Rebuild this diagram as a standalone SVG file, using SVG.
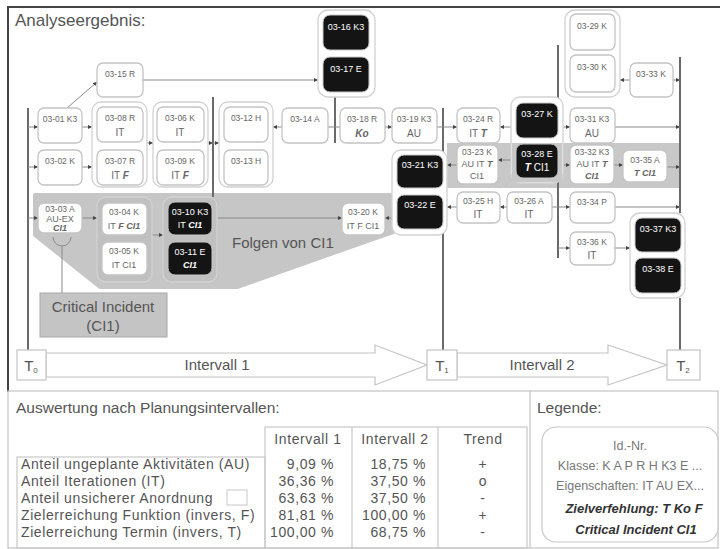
<svg xmlns="http://www.w3.org/2000/svg" width="720" height="549" viewBox="0 0 720 549">
<defs>
<style>
text{font-family:"Liberation Sans",Arial,sans-serif}
.n{fill:#fff;stroke:#c4c4c4;stroke-width:1.3}
.g{fill:#fff;stroke:#d2d2d2;stroke-width:1.3}
.b{fill:#141414;stroke:#c8c8c8;stroke-width:1}
.t{font-size:8.5px;fill:#666;text-anchor:middle}
.t2{font-size:10px;fill:#666;text-anchor:middle}
.t3{font-size:9px;fill:#666;text-anchor:middle}
.w{font-size:9px;fill:#fff;text-anchor:middle}
.w2{font-size:10px;fill:#fff;text-anchor:middle}
.bi{font-weight:bold;font-style:italic}
.c{stroke:#8a8a8a;stroke-width:1;fill:none;marker-end:url(#a)}
.l{stroke:#8a8a8a;stroke-width:1;fill:none}
.v{stroke:#6a6a6a;stroke-width:2;fill:none}
.lab{font-size:15px;fill:#555}
.tb{font-size:14px;fill:#555;letter-spacing:0.6px}
.hd{font-size:15.5px;fill:#555}
</style>
<marker id="a" viewBox="0 0 6 6" refX="6" refY="3" markerWidth="4" markerHeight="4" markerUnits="userSpaceOnUse" orient="auto"><path d="M0,0L6,3L0,6z" fill="#444"/></marker>
</defs>
<rect width="720" height="549" fill="#fff"/>
<!-- frame -->
<path d="M8,392V7H720" fill="none" stroke="#444" stroke-width="2"/>
<rect x="8" y="391" width="710" height="157" fill="none" stroke="#c8c8c8" stroke-width="1.3"/>
<line x1="530" y1="391" x2="530" y2="548" stroke="#c8c8c8" stroke-width="1.3"/>
<text x="15" y="26" font-size="17" fill="#555">Analyseergebnis:</text>

<!-- gray areas -->
<polygon points="35,195 393,195 393,232 237,287 100,287 35,235" fill="#c6c6c6" stroke="#c6c6c6" stroke-width="4" stroke-linejoin="round"/>
<rect x="447" y="143" width="233" height="45" fill="#c8c8c8"/>
<text x="232" y="248" font-size="15" fill="#555">Folgen von CI1</text>

<!-- connectors -->
<g id="connectors">
<line class="v" x1="28" y1="108" x2="28" y2="350"/>
<line class="v" x1="213" y1="97" x2="213" y2="197"/>
<line class="v" x1="335" y1="97" x2="335" y2="143"/>
<line class="v" x1="443" y1="108" x2="443" y2="350"/>
<line class="v" x1="558" y1="45" x2="558" y2="258"/>
<line class="v" x1="680" y1="57" x2="680" y2="213"/>
<line class="v" x1="680" y1="298" x2="680" y2="350"/>
<path class="c" d="M28,127H38"/>
<path class="c" d="M28,167H38"/>
<path class="c" d="M28,218H38"/>
<path class="c" d="M82,127H92"/>
<path class="c" d="M82,167H92"/>
<path class="c" d="M67,108L97,82"/>
<path class="c" d="M143,80H318"/>
<path class="c" d="M147,143H153"/>
<path class="c" d="M208,143H213"/>
<path class="c" d="M213,143H219"/>
<path class="c" d="M282,127H273"/>
<path class="l" d="M328,127H340"/>
<path class="c" d="M385,127H392"/>
<path class="c" d="M437,127H457"/>
<path class="c" d="M516,127H500"/>
<path class="c" d="M558,127H570"/>
<path class="c" d="M615,127H680"/>
<path class="c" d="M630,80H620"/>
<path class="c" d="M673,80H680"/>
<path class="c" d="M516,160H498"/>
<path class="c" d="M457,165H447"/>
<path class="c" d="M558,165H570"/>
<path class="c" d="M614,165H623"/>
<path class="c" d="M667,167H680"/>
<path class="c" d="M457,207H447"/>
<path class="c" d="M507,207H500"/>
<path class="c" d="M552,207H570"/>
<path class="c" d="M615,207H680"/>
<path class="c" d="M558,248H570"/>
<path class="c" d="M615,248H630"/>
<path class="c" d="M392,218H385"/>
<path class="c" d="M217,218H342"/>
<path class="c" d="M82,218H97"/>
<path class="c" d="M152,235H163"/>
<path class="l" d="M53,237A9,9 0 0 0 71,237"/>
<path class="l" d="M62,246V293"/>
</g>

<!-- nodes interval 1 -->
<g id="n0315"><rect class="n" x="97" y="63" width="46" height="34" rx="6"/><text class="t" x="120" y="77">03-15 R</text></g>
<g id="n0301"><rect class="n" x="38" y="108" width="44" height="35" rx="6"/><text class="t" x="60" y="122">03-01 K3</text></g>
<g id="n0302"><rect class="n" x="38" y="150" width="44" height="35" rx="6"/><text class="t" x="60" y="164">03-02 K</text></g>
<g id="g0807"><rect class="g" x="92" y="102" width="55" height="85" rx="9"/>
<rect class="n" x="97" y="107" width="46" height="35" rx="6"/><text class="t" x="120" y="121">03-08 R</text><text class="t2" x="120" y="136">IT</text>
<rect class="n" x="97" y="150" width="46" height="35" rx="6"/><text class="t" x="120" y="164">03-07 R</text><text class="t2" x="120" y="179">IT <tspan class="bi">F</tspan></text></g>
<g id="g0609"><rect class="g" x="153" y="102" width="55" height="85" rx="9"/>
<rect class="n" x="157" y="107" width="47" height="35" rx="6"/><text class="t" x="180" y="121">03-06 K</text><text class="t2" x="180" y="136">IT</text>
<rect class="n" x="157" y="150" width="47" height="35" rx="6"/><text class="t" x="180" y="164">03-09 K</text><text class="t2" x="180" y="179">IT <tspan class="bi">F</tspan></text></g>
<g id="g1213"><rect class="g" x="219" y="102" width="54" height="85" rx="9"/>
<rect class="n" x="224" y="107" width="44" height="35" rx="6"/><text class="t" x="246" y="121">03-12 H</text>
<rect class="n" x="224" y="150" width="44" height="35" rx="6"/><text class="t" x="246" y="164">03-13 H</text></g>
<g id="n0314"><rect class="n" x="282" y="108" width="46" height="35" rx="6"/><text class="t" x="305" y="122">03-14 A</text></g>
<g id="g1617"><rect class="g" x="318" y="10" width="57" height="87" rx="10"/>
<rect class="b" x="323" y="15" width="46" height="35" rx="7"/><text class="w" x="346" y="30">03-16 K3</text>
<rect class="b" x="323" y="57" width="46" height="35" rx="7"/><text class="w" x="346" y="72">03-17 E</text></g>
<g id="n0318"><rect class="n" x="340" y="108" width="45" height="35" rx="6"/><text class="t" x="362" y="122">03-18 R</text><text class="t2 bi" x="362" y="137">Ko</text></g>
<g id="n0319"><rect class="n" x="392" y="108" width="45" height="35" rx="6"/><text class="t" x="414" y="122">03-19 K3</text><text class="t2" x="414" y="137">AU</text></g>
<g id="n0303"><rect class="n" x="38" y="203" width="44" height="30" rx="6"/><text class="t" x="60" y="212">03-03 A</text><text class="t3" x="60" y="222">AU-EX</text><text class="t3 bi" x="60" y="231">CI1</text></g>
<g id="g0405"><rect class="g" x="97" y="197" width="55" height="85" rx="9" style="fill:#c0c0c0"/>
<rect class="n" x="102" y="203" width="45" height="32" rx="6"/><text class="t" x="124" y="215">03-04 K</text><text class="t3" x="124" y="229">IT <tspan class="bi">F CI1</tspan></text>
<rect class="n" x="102" y="242" width="45" height="33" rx="6"/><text class="t" x="124" y="254">03-05 K</text><text class="t3" x="124" y="268">IT  CI1</text></g>
<g id="g1011"><rect class="g" x="163" y="197" width="54" height="85" rx="9" style="fill:#c0c0c0"/>
<rect class="b" x="168" y="202" width="44" height="33" rx="7"/><text class="w" x="190" y="215">03-10 K3</text><text class="w" x="190" y="228">IT <tspan class="bi">CI1</tspan></text>
<rect class="b" x="168" y="242" width="44" height="33" rx="7"/><text class="w" x="190" y="255">03-11 E</text><text class="w bi" x="190" y="268">CI1</text></g>
<g id="n0320"><rect class="n" x="342" y="203" width="43" height="32" rx="6"/><text class="t" x="363" y="215">03-20 K</text><text class="t3" x="363" y="229">IT F CI1</text></g>
<g id="g2122"><rect class="g" x="392" y="150" width="55" height="85" rx="9"/>
<rect class="b" x="397" y="155" width="46" height="33" rx="7"/><text class="w" x="420" y="168">03-21 K3</text>
<rect class="b" x="397" y="195" width="46" height="34" rx="7"/><text class="w" x="420" y="208">03-22 E</text></g>
<g id="ci"><rect x="40" y="293" width="127" height="44" fill="#c4c4c4" stroke="#a8a8a8" stroke-width="1"/><text class="lab" x="103" y="312" text-anchor="middle">Critical Incident</text><text class="lab" x="103" y="331" text-anchor="middle">(CI1)</text></g>

<!-- nodes interval 2 -->
<g id="n0324"><rect class="n" x="457" y="108" width="43" height="35" rx="6"/><text class="t" x="478" y="122">03-24 R</text><text class="t2" x="478" y="137">IT <tspan class="bi">T</tspan></text></g>
<g id="g2728"><rect class="g" x="511" y="97" width="52" height="86" rx="9"/>
<rect x="512" y="143" width="50" height="39" fill="#c8c8c8"/>
<rect class="b" x="516" y="103" width="42" height="35" rx="7"/><text class="w" x="537" y="117">03-27 K</text>
<rect class="b" x="516" y="144" width="42" height="34" rx="7"/><text class="w" x="537" y="157">03-28 E</text><text class="w2" x="537" y="171"><tspan class="bi">T</tspan>  CI1</text></g>
<g id="n0323"><rect class="n" x="457" y="145" width="41" height="39" rx="6"/><text class="t" x="477" y="155">03-23 K</text><text class="t3" x="477" y="167">AU IT <tspan class="bi">T</tspan></text><text class="t3" x="477" y="179">CI1</text></g>
<g id="n0325"><rect class="n" x="457" y="192" width="43" height="31" rx="6"/><text class="t" x="478" y="204">03-25 H</text><text class="t2" x="478" y="218">IT</text></g>
<g id="n0326"><rect class="n" x="507" y="192" width="45" height="31" rx="6"/><text class="t" x="529" y="204">03-26 A</text><text class="t2" x="529" y="218">IT</text></g>
<g id="g2930"><rect class="g" x="565" y="10" width="55" height="87" rx="10"/>
<rect class="n" x="570" y="14" width="45" height="36" rx="6"/><text class="t" x="592" y="29">03-29 K</text>
<rect class="n" x="570" y="55" width="45" height="37" rx="6"/><text class="t" x="592" y="70">03-30 K</text></g>
<g id="n0333"><rect class="n" x="630" y="63" width="43" height="34" rx="6"/><text class="t" x="651" y="77">03-33 K</text></g>
<g id="n0331"><rect class="n" x="570" y="108" width="45" height="35" rx="6"/><text class="t" x="592" y="122">03-31 K3</text><text class="t2" x="592" y="137">AU</text></g>
<g id="n0332"><rect class="n" x="570" y="145" width="44" height="39" rx="6"/><text class="t" x="592" y="155">03-32 K3</text><text class="t3" x="592" y="167">AU IT <tspan class="bi">T</tspan></text><text class="t3 bi" x="592" y="179">CI1</text></g>
<g id="n0335"><rect class="n" x="623" y="150" width="44" height="32" rx="6"/><text class="t" x="645" y="163">03-35 A</text><text class="t3" x="645" y="176"><tspan class="bi">T CI1</tspan></text></g>
<g id="n0334"><rect class="n" x="570" y="192" width="45" height="31" rx="6"/><text class="t" x="592" y="205">03-34 P</text></g>
<g id="n0336"><rect class="n" x="570" y="232" width="45" height="33" rx="6"/><text class="t" x="592" y="245">03-36 K</text><text class="t2" x="592" y="259">IT</text></g>
<g id="g3738"><rect class="g" x="630" y="213" width="55" height="85" rx="10"/>
<rect class="b" x="635" y="218" width="46" height="34" rx="7"/><text class="w" x="658" y="232">03-37 K3</text>
<rect class="b" x="635" y="258" width="46" height="35" rx="7"/><text class="w" x="658" y="272">03-38 E</text></g>

<!-- timeline -->
<g id="timeline">
<polygon points="46,353 375,353 375,345 427,365 375,385 375,377 46,377" fill="#fff" stroke="#c4c4c4" stroke-width="1.2"/>
<polygon points="457,353 608,353 608,345 667,365 608,385 608,377 457,377" fill="#fff" stroke="#c4c4c4" stroke-width="1.2"/>
<rect x="17" y="350" width="29" height="30" fill="#fff" stroke="#c4c4c4" stroke-width="1.2"/>
<rect x="427" y="350" width="30" height="30" fill="#fff" stroke="#c4c4c4" stroke-width="1.2"/>
<rect x="667" y="350" width="33" height="30" fill="#fff" stroke="#c4c4c4" stroke-width="1.2"/>
<text x="31" y="371" font-size="15" fill="#555" text-anchor="middle">T<tspan font-size="8" dy="2">0</tspan></text>
<text x="442" y="371" font-size="15" fill="#555" text-anchor="middle">T<tspan font-size="8" dy="2">1</tspan></text>
<text x="683" y="371" font-size="15" fill="#555" text-anchor="middle">T<tspan font-size="8" dy="2">2</tspan></text>
<text class="lab" x="217" y="370" text-anchor="middle">Intervall 1</text>
<text class="lab" x="542" y="370" text-anchor="middle">Intervall 2</text>
</g>

<!-- table -->
<g id="table">
<text class="hd" x="16" y="413">Auswertung nach Planungsintervallen:</text>
<rect x="17" y="457" width="248" height="91" fill="none" stroke="#c8c8c8" stroke-width="1.2"/>
<rect x="265" y="427" width="262" height="121" fill="none" stroke="#c8c8c8" stroke-width="1.2"/>
<line x1="352" y1="427" x2="352" y2="548" stroke="#c8c8c8" stroke-width="1.2"/>
<line x1="438" y1="427" x2="438" y2="548" stroke="#c8c8c8" stroke-width="1.2"/>
<text class="tb" x="308" y="444" text-anchor="middle">Intervall 1</text>
<text class="tb" x="395" y="444" text-anchor="middle">Intervall 2</text>
<text class="tb" x="483" y="444" text-anchor="middle">Trend</text>
<text class="tb" x="21" y="469">Anteil ungeplante Aktivitäten (AU)</text>
<text class="tb" x="21" y="486">Anteil Iterationen (IT)</text>
<text class="tb" x="21" y="503">Anteil unsicherer Anordnung</text>
<text class="tb" x="21" y="520">Zielerreichung Funktion (invers, F)</text>
<text class="tb" x="21" y="537">Zielerreichung Termin (invers, T)</text>
<rect x="227" y="490" width="20" height="15" fill="none" stroke="#c8c8c8" stroke-width="1"/>
<text class="tb" x="334" y="469" text-anchor="end">9,09 %</text>
<text class="tb" x="334" y="486" text-anchor="end">36,36 %</text>
<text class="tb" x="334" y="503" text-anchor="end">63,63 %</text>
<text class="tb" x="334" y="520" text-anchor="end">81,81 %</text>
<text class="tb" x="334" y="537" text-anchor="end">100,00 %</text>
<text class="tb" x="426" y="469" text-anchor="end">18,75 %</text>
<text class="tb" x="426" y="486" text-anchor="end">37,50 %</text>
<text class="tb" x="426" y="503" text-anchor="end">37,50 %</text>
<text class="tb" x="426" y="520" text-anchor="end">100,00 %</text>
<text class="tb" x="426" y="537" text-anchor="end">68,75 %</text>
<text class="tb" x="483" y="469" text-anchor="middle">+</text>
<text class="tb" x="483" y="486" text-anchor="middle">o</text>
<text class="tb" x="483" y="503" text-anchor="middle">-</text>
<text class="tb" x="483" y="520" text-anchor="middle">+</text>
<text class="tb" x="483" y="537" text-anchor="middle">-</text>
</g>

<!-- legend -->
<g id="legend">
<text class="hd" x="537" y="413">Legende:</text>
<rect x="542" y="427" width="176" height="115" rx="14" fill="#fff" stroke="#c8c8c8" stroke-width="1.2"/>
<g font-size="12.5" fill="#777" text-anchor="middle">
<text x="630" y="450">Id.-Nr.</text>
<text x="630" y="470">Klasse: K A P R H K3 E ...</text>
<text x="630" y="490">Eigenschaften:  IT AU EX...</text>
<text x="634" y="513" font-size="13" font-weight="bold" font-style="italic" fill="#333">Zielverfehlung: T Ko F</text>
<text x="636" y="534" font-size="13" font-weight="bold" font-style="italic" fill="#333">Critical Incident CI1</text>
</g>
</g>
</svg>
